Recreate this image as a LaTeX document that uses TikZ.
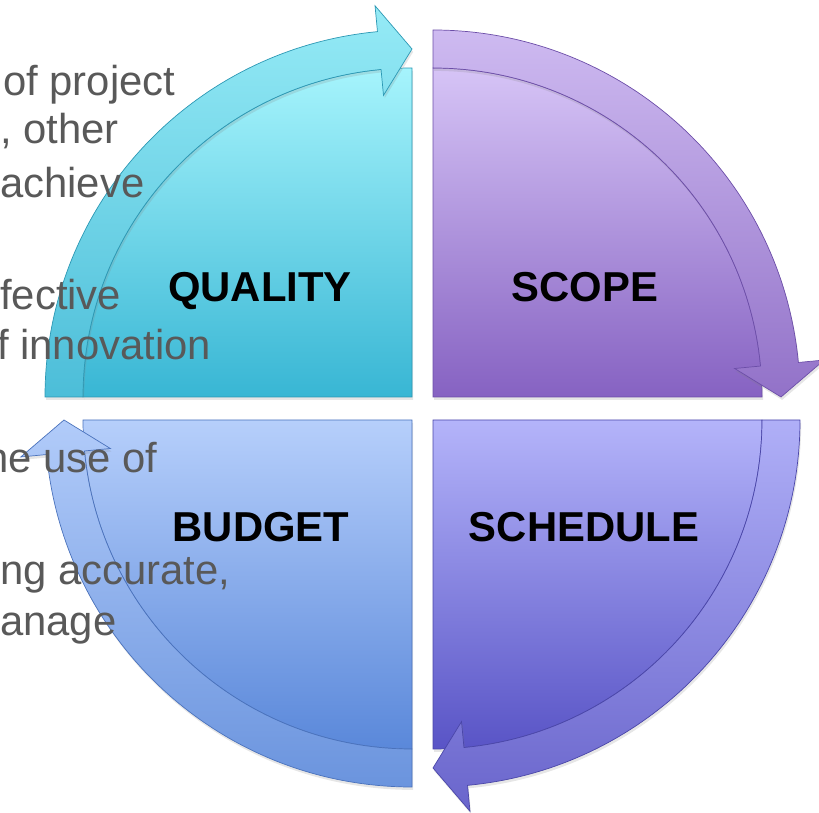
\documentclass[tikz,border=0pt]{standalone}
\usepackage{fontspec}
\setmainfont{Liberation Sans}
\usetikzlibrary{shadows}

\definecolor{qualitytop}{HTML}{A6F4FC}
\definecolor{qualitybot}{HTML}{38B6D4}
\definecolor{qualityedge}{HTML}{2C98B4}
\definecolor{scopetop}{HTML}{D6C4F6}
\definecolor{scopebot}{HTML}{8662C2}
\definecolor{scopeedge}{HTML}{6C4EA8}
\definecolor{scheduletop}{HTML}{B4B4FA}
\definecolor{schedulebot}{HTML}{5954C6}
\definecolor{scheduleedge}{HTML}{4A46A8}
\definecolor{budgettop}{HTML}{B6CFFB}
\definecolor{budgetbot}{HTML}{5A88DA}
\definecolor{budgetedge}{HTML}{4A72BC}
\definecolor{notegray}{HTML}{595959}

\tikzstyle{segshadow}=[drop shadow={opacity=0.2,shadow xshift=1pt,shadow yshift=-2.5pt}]
\tikzstyle{qualitybody}=[segshadow,top color=qualitytop,bottom color=qualitybot,draw=qualityedge,line width=0.6pt]
\tikzstyle{qualityring}=[segshadow,top color=qualitytop!85!qualitybot,bottom color=qualitybot!90!white,draw=qualityedge,line width=0.6pt]
\tikzstyle{scopebody}=[segshadow,top color=scopetop,bottom color=scopebot,draw=scopeedge,line width=0.6pt]
\tikzstyle{scopering}=[segshadow,top color=scopetop!90!scopebot,bottom color=scopebot!90!white,draw=scopeedge,line width=0.6pt]
\tikzstyle{schedulebody}=[segshadow,top color=scheduletop,bottom color=schedulebot,draw=scheduleedge,line width=0.6pt]
\tikzstyle{schedulering}=[segshadow,top color=scheduletop!95!schedulebot,bottom color=schedulebot!90!white,draw=scheduleedge,line width=0.6pt]
\tikzstyle{budgetbody}=[segshadow,top color=budgettop,bottom color=budgetbot,draw=budgetedge,line width=0.6pt]
\tikzstyle{budgetring}=[segshadow,top color=budgettop!95!budgetbot,bottom color=budgetbot!90!white,draw=budgetedge,line width=0.6pt]
\tikzstyle{notestyle}=[anchor=base west,inner sep=0pt,text=notegray,font=\fontsize{35.7}{40}\selectfont]
\tikzstyle{labelstyle}=[anchor=base,inner sep=0pt,font=\bfseries\fontsize{35.7}{40}\selectfont]

% one quarter: centre x, centre y, start angle, body style, band style
\newcommand{\quadrant}[5]{%
  \begin{scope}[shift={(#1,#2)}]
    \draw[#4] (0,0) -- (#3:\rin) arc[start angle={#3}, end angle={#3-90}, radius=\rin] -- cycle;
    \draw[#5] (#3:\rout) arc[start angle={#3}, end angle={#3-90+\hang}, radius=\rout]
      -- ({#3-90+\hang}:{\rmid+\hw}) -- ({#3-90}:\rmid) -- ({#3-90+\hang}:{\rmid-\hw})
      -- ({#3-90+\hang}:\rin) arc[start angle={#3-90+\hang}, end angle={#3}, radius=\rin] -- cycle;
  \end{scope}}

\begin{document}
\begin{tikzpicture}[x=0.03cm,y=0.03cm]
      \useasboundingbox (0,0) rectangle (819,812);

      % sizes of the ring, so they can all be changed here
      \def\rout{367} % outer radius of a quarter
      \def\rin{329}  % inner radius of the arrow band
      \def\rmid{348} % middle of the band
      \def\hw{45}    % half width of an arrow head
      \def\hang{5.4} % length of an arrow head, in degrees

      % the four quarters
      \quadrant{412}{415}{180}{qualitybody}{qualityring}
      \quadrant{433}{415}{90}{scopebody}{scopering}
      \quadrant{433}{392}{0}{schedulebody}{schedulering}
      \quadrant{412}{392}{-90}{budgetbody}{budgetring}

      % text lying behind, cut at the left edge
      \node[notestyle] (note1) at (3,716) {of project};
      \node[notestyle] (note2) at (0,668) {, other};
      \node[notestyle] (note3) at (0,614) {achieve};
      \node[notestyle] (note4) at (0,502) {fective};
      \node[notestyle] (note5) at (-3,452) {f innovation};
      \node[notestyle] (note6) at (-15,339) {he use of};
      \node[notestyle] (note7) at (0,227) {ng accurate,};
      \node[notestyle] (note8) at (0,177) {anage};

      % Insert labels
      \node[labelstyle] (quality) at (260,510) {QUALITY};
      \node[labelstyle] (scope) at (585,510) {SCOPE};
      \node[labelstyle] (budget) at (261,270) {BUDGET};
      \node[labelstyle] (schedule) at (584,270) {SCHEDULE};

\end{tikzpicture}
\end{document}
